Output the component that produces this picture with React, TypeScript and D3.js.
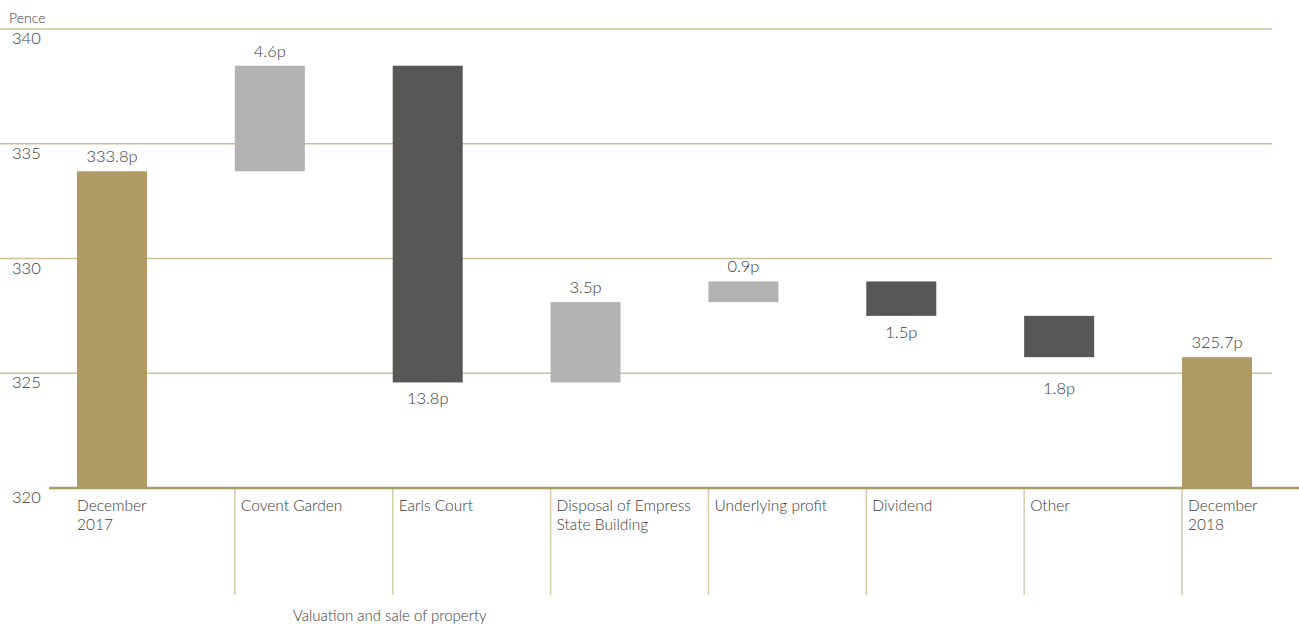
import React from "react";
import * as d3 from "d3";

const categories = [
  "December\n2017",
  "Covent Garden",
  "Earls Court",
  "Disposal of Empress\nState Building",
  "Underlying profit",
  "Dividend",
  "Other",
  "December\n2018",
];
const deltas = [333.8, 4.6, -13.8, 3.5, 0.9, -1.5, -1.8, 325.7];
const kinds = ["total", "up", "down", "up", "up", "down", "down", "total"];
const valueLabels = ["333.8p", "4.6p", "13.8p", "3.5p", "0.9p", "1.5p", "1.8p", "325.7p"];
const yTicks = [320, 325, 330, 335, 340];
const yAxisTitle = "Pence";
const groupLabel = "Valuation and sale of property";

const W = 1299;
const H = 624;
const FONT = "Lato, 'Open Sans', sans-serif";
const TEXT = "#3a3a3a";
const GOLD = "#ae9a62";
const GRID = "#cdbf98";
const SEP = "#d6cba9";
const COLORS: Record<string, string> = { total: GOLD, up: "#b2b2b2", down: "#575756" };

export default function App() {
  const y = d3.scaleLinear().domain([320, 340]).range([488, 29]);
  const x = d3
    .scaleBand<number>()
    .domain(d3.range(categories.length))
    .range([77, 1252])
    .paddingInner(1 - 70 / 157.86)
    .paddingOuter(0);

  let running = 0;
  const bars = deltas.map((d, i) => {
    let lo: number, hi: number;
    if (kinds[i] === "total") {
      lo = 320;
      hi = d;
      running = d;
    } else {
      const start = running;
      const end = running + d;
      lo = Math.min(start, end);
      hi = Math.max(start, end);
      running = end;
    }
    return { i, lo, hi, kind: kinds[i] };
  });

  const gridYs = yTicks.filter((t) => t !== 320).map((t) => y(t));

  return (
    <svg
      width={W}
      height={H}
      style={{ position: "absolute", left: 0, top: 0, background: "#fff" }}
      fontFamily={FONT}
    >
      {yTicks
        .filter((t) => t !== 320)
        .map((t) => (
          <line key={t} x1={0} x2={1272} y1={y(t)} y2={y(t)} stroke={GRID} strokeWidth={1.3} />
        ))}
      {yTicks.map((t) => (
        <text key={t} x={12} y={y(t) + 15} fontSize={16.5} fontWeight={300} fill={TEXT}>
          {t}
        </text>
      ))}
      <text x={9} y={23} fontSize={14} fontWeight={300} fill={TEXT}>
        {yAxisTitle}
      </text>

      {bars.map((b) => (
        <rect
          key={b.i}
          x={x(b.i)!}
          width={x.bandwidth()}
          y={y(b.hi)}
          height={y(b.lo) - y(b.hi)}
          fill={COLORS[b.kind]}
        />
      ))}

      {bars.map((b) => {
        const cx = x(b.i)! + x.bandwidth() / 2;
        let ly: number;
        if (b.kind === "down") {
          const bottom = y(b.lo);
          ly = bottom + 22;
          const hit = gridYs.find((g) => g >= ly - 15 && g <= ly + 3);
          if (hit !== undefined) ly = hit + 21;
        } else {
          ly = y(b.hi) - 9;
        }
        return (
          <text key={b.i} x={cx} y={ly} textAnchor="middle" fontSize={16.5} fontWeight={300} fill={TEXT}>
            {valueLabels[b.i]}
          </text>
        );
      })}

      {categories.map((c, i) =>
        i === 0 ? null : (
          <line key={i} x1={x(i)!} x2={x(i)!} y1={488} y2={595} stroke={SEP} strokeWidth={1.5} />
        )
      )}
      <line x1={49} x2={W} y1={488} y2={488} stroke={GOLD} strokeWidth={2.5} />

      {categories.map((c, i) => (
        <text key={i} x={x(i)! + (i === 0 ? 0 : 6)} y={511} fontSize={15.5} fontWeight={300} fill={TEXT}>
          {c.split("\n").map((line, k) => (
            <tspan key={k} x={x(i)! + (i === 0 ? 0 : 6)} dy={k === 0 ? 0 : 19}>
              {line}
            </tspan>
          ))}
        </text>
      ))}

      <text x={293} y={621} fontSize={15} fontWeight={300} fill={TEXT}>
        {groupLabel}
      </text>
    </svg>
  );
}
